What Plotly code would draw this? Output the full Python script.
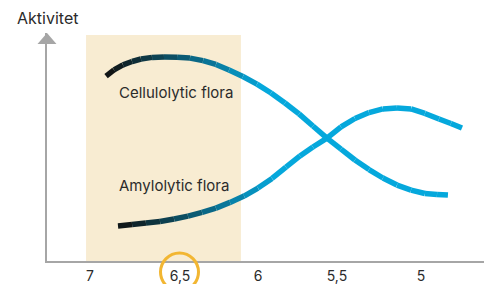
import plotly.graph_objects as go

# ---- data ----
cellulolytic_ph = [6.903, 6.855, 6.801, 6.746, 6.692, 6.625, 6.553, 6.474, 6.396, 6.317,
                   6.239, 6.160, 6.076, 5.991, 5.906, 5.822, 5.737, 5.653, 5.568, 5.483,
                   5.399, 5.314, 5.230, 5.145, 5.060, 4.976, 4.903, 4.837]
cellulolytic_act = [81.1, 83.8, 86.0, 87.5, 88.6, 89.3, 89.5, 89.4, 89.0, 87.9,
                    86.2, 83.8, 80.9, 77.6, 73.7, 69.3, 64.5, 59.2, 53.9, 49.1,
                    44.3, 40.1, 36.4, 33.3, 31.1, 29.6, 29.2, 28.9]

amylolytic_ph = [6.831, 6.746, 6.662, 6.577, 6.492, 6.408, 6.323, 6.239, 6.154, 6.069,
                 5.985, 5.900, 5.816, 5.731, 5.653, 5.568, 5.483, 5.399, 5.314, 5.230,
                 5.145, 5.060, 4.976, 4.891, 4.819, 4.752]
amylolytic_act = [15.4, 16.0, 16.7, 17.3, 18.4, 19.7, 21.3, 23.2, 25.7, 28.5,
                  32.0, 36.2, 41.2, 46.1, 50.0, 53.9, 58.8, 62.5, 65.1, 66.7,
                  67.1, 66.7, 64.7, 62.3, 60.3, 58.3]

tick_labels = ["7", "6,5", "6", "5,5", "5"]
tick_ph = [7.0, 6.456, 5.985, 5.508, 5.0]

highlight_ph = (7.024, 6.088)   # shaded optimum zone
series_labels = ["Cellulolytic flora", "Amylolytic flora"]
y_title = "Aktivitet"

# ---- style ----
DARK = (17, 17, 17)
BLUE = (5, 168, 220)
FONT = "Inter"
TEXT = "#2b2b2b"
AXIS = "#a6a6a6"


def blend(t):
    t = max(0.0, min(1.0, t))
    c = [round(DARK[i] + (BLUE[i] - DARK[i]) * t) for i in range(3)]
    return f"rgb({c[0]},{c[1]},{c[2]})"


fig = go.Figure()


def add_gradient_curve(xs, ys, span=0.95):
    x_start = xs[0]
    for i in range(len(xs) - 1):
        mid = (xs[i] + xs[i + 1]) / 2
        t = (x_start - mid) / span
        fig.add_trace(go.Scatter(
            x=[xs[i], xs[i + 1]], y=[ys[i], ys[i + 1]],
            mode="lines", line=dict(color=blend(t), width=5.5),
            hoverinfo="skip", showlegend=False))


add_gradient_curve(cellulolytic_ph, cellulolytic_act)
add_gradient_curve(amylolytic_ph, amylolytic_act)

# shaded zone
fig.add_shape(type="rect", xref="x", yref="y",
              x0=highlight_ph[0], x1=highlight_ph[1], y0=0, y1=99.1,
              fillcolor="#f8ecd2", line_width=0, layer="below")

# arrow head on y axis (paper coords)
fig.add_shape(type="path", xref="paper", yref="paper",
              path="M 0,1 L -0.0217,0.9518 L 0.0217,0.9518 Z",
              fillcolor=AXIS, line_width=0)

# highlight circle around 6,5
fig.add_shape(type="circle", xref="paper", yref="paper",
              x0=(160.5 - 47) / 437, x1=(198.5 - 47) / 437,
              y0=(261 - 291) / 228, y1=(261 - 253) / 228,
              line=dict(color="#f2b632", width=3))

fig.add_annotation(x=6.48, y=(261 - 92) / 2.28, xref="x", yref="y",
                   text=series_labels[0], showarrow=False,
                   font=dict(family=FONT, size=15, color=TEXT))
fig.add_annotation(x=6.49, y=(261 - 185) / 2.28, xref="x", yref="y",
                   text=series_labels[1], showarrow=False,
                   font=dict(family=FONT, size=15, color=TEXT))
fig.add_annotation(x=0, y=(261 - 18) / 228, xref="paper", yref="paper",
                   xanchor="center", yanchor="middle",
                   text=y_title, showarrow=False,
                   font=dict(family=FONT, size=16, color=TEXT))

fig.update_layout(
    template="none",
    width=484, height=284,
    margin=dict(l=47, r=0, t=33, b=23),
    paper_bgcolor="white", plot_bgcolor="white",
    showlegend=False,
    xaxis=dict(range=[7.260, 4.619], showgrid=False, zeroline=False,
               showline=True, linecolor=AXIS, linewidth=2,
               tickvals=tick_ph, ticktext=tick_labels, ticks="",
               ticklabelstandoff=1,
               tickfont=dict(family=FONT, size=14, color=TEXT),
               automargin=False, fixedrange=True),
    yaxis=dict(range=[0, 100], showgrid=False, zeroline=False,
               showline=True, linecolor=AXIS, linewidth=2,
               showticklabels=False, ticks="", automargin=False,
               fixedrange=True),
)

fig.write_html("out.html", config={"displayModeBar": False, "staticPlot": True},
               post_script="document.body.style.margin='0';document.body.style.overflow='hidden';")
